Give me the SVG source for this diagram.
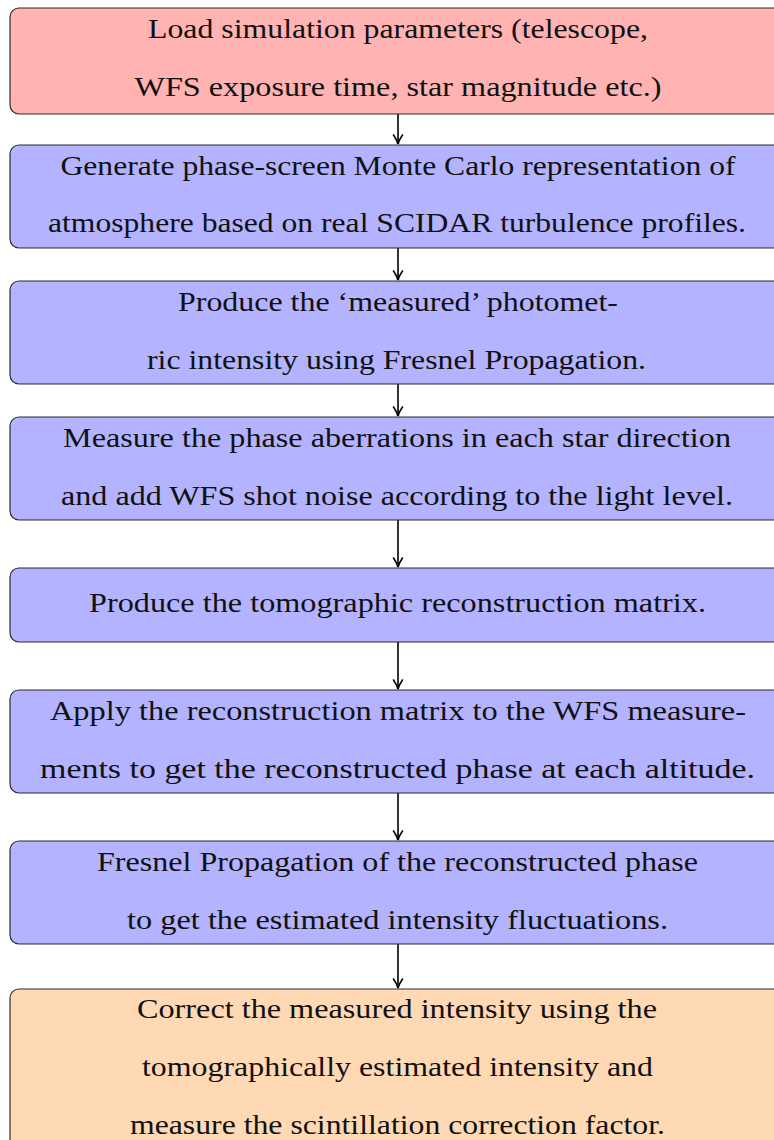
<svg xmlns="http://www.w3.org/2000/svg" width="774" height="1140" viewBox="0 0 774 1140">
<defs>
<style>
.box{stroke:#2a2a2a;stroke-width:1.2}
.red{fill:#ffb3b3}
.blue{fill:#b3b3ff}
.orange{fill:#ffd9b3}
text{font-family:"Liberation Serif","DejaVu Serif",serif;font-size:28px;fill:#111;text-anchor:middle}
.conn{stroke:#000;stroke-width:1.6;fill:none;marker-end:url(#tip)}
</style>
<marker id="tip" markerUnits="userSpaceOnUse" markerWidth="14" markerHeight="12" viewBox="-11 -6 12 12" refX="0" refY="0" orient="auto">
<path d="M-9,-4.5 Q-4,-1 0,0 Q-4,1 -9,4.5" fill="none" stroke="#000" stroke-width="1.6" stroke-linecap="round"/>
</marker>
</defs>
<rect width="774" height="1140" fill="#fff"/>
<g id="connectors">
<line class="conn" x1="398" y1="114" x2="398" y2="144"/>
<line class="conn" x1="398" y1="248" x2="398" y2="280"/>
<line class="conn" x1="398" y1="384" x2="398" y2="416"/>
<line class="conn" x1="398" y1="520" x2="398" y2="567"/>
<line class="conn" x1="398" y1="642" x2="398" y2="689"/>
<line class="conn" x1="398" y1="793" x2="398" y2="840"/>
<line class="conn" x1="398" y1="944" x2="398" y2="988"/>
</g>
<g id="n1">
<rect class="box red" x="10" y="8" width="776" height="106" rx="9"/>
<text x="398" y="38" textLength="500" lengthAdjust="spacingAndGlyphs">Load simulation parameters (telescope,</text>
<text x="398" y="96" textLength="527" lengthAdjust="spacingAndGlyphs">WFS exposure time, star magnitude etc.)</text>
</g>
<g id="n2">
<rect class="box blue" x="10" y="145" width="776" height="103" rx="9"/>
<text x="398" y="175" textLength="675" lengthAdjust="spacingAndGlyphs">Generate phase-screen Monte Carlo representation of</text>
<text x="397" y="232" textLength="698" lengthAdjust="spacingAndGlyphs">atmosphere based on real SCIDAR turbulence profiles.</text>
</g>
<g id="n3">
<rect class="box blue" x="10" y="281" width="776" height="103" rx="9"/>
<text x="398" y="311" textLength="440" lengthAdjust="spacingAndGlyphs">Produce the ‘measured’ photomet-</text>
<text x="396.5" y="369" textLength="499" lengthAdjust="spacingAndGlyphs">ric intensity using Fresnel Propagation.</text>
</g>
<g id="n4">
<rect class="box blue" x="10" y="417" width="776" height="103" rx="9"/>
<text x="397" y="447" textLength="668" lengthAdjust="spacingAndGlyphs">Measure the phase aberrations in each star direction</text>
<text x="397" y="505" textLength="672" lengthAdjust="spacingAndGlyphs">and add WFS shot noise according to the light level.</text>
</g>
<g id="n5">
<rect class="box blue" x="10" y="568" width="776" height="74" rx="9"/>
<text x="397.5" y="612" textLength="617" lengthAdjust="spacingAndGlyphs">Produce the tomographic reconstruction matrix.</text>
</g>
<g id="n6">
<rect class="box blue" x="10" y="690" width="776" height="103" rx="9"/>
<text x="398" y="720" textLength="696" lengthAdjust="spacingAndGlyphs">Apply the reconstruction matrix to the WFS measure-</text>
<text x="397.5" y="778" textLength="715" lengthAdjust="spacingAndGlyphs">ments to get the reconstructed phase at each altitude.</text>
</g>
<g id="n7">
<rect class="box blue" x="10" y="841" width="776" height="103" rx="9"/>
<text x="397.5" y="871" textLength="601" lengthAdjust="spacingAndGlyphs">Fresnel Propagation of the reconstructed phase</text>
<text x="397.5" y="929" textLength="541" lengthAdjust="spacingAndGlyphs">to get the estimated intensity fluctuations.</text>
</g>
<g id="n8">
<rect class="box orange" x="10" y="989" width="776" height="170" rx="9"/>
<text x="397" y="1018" textLength="520" lengthAdjust="spacingAndGlyphs">Correct the measured intensity using the</text>
<text x="397.5" y="1076" textLength="511" lengthAdjust="spacingAndGlyphs">tomographically estimated intensity and</text>
<text x="397.5" y="1134" textLength="535" lengthAdjust="spacingAndGlyphs">measure the scintillation correction factor.</text>
</g>
</svg>
